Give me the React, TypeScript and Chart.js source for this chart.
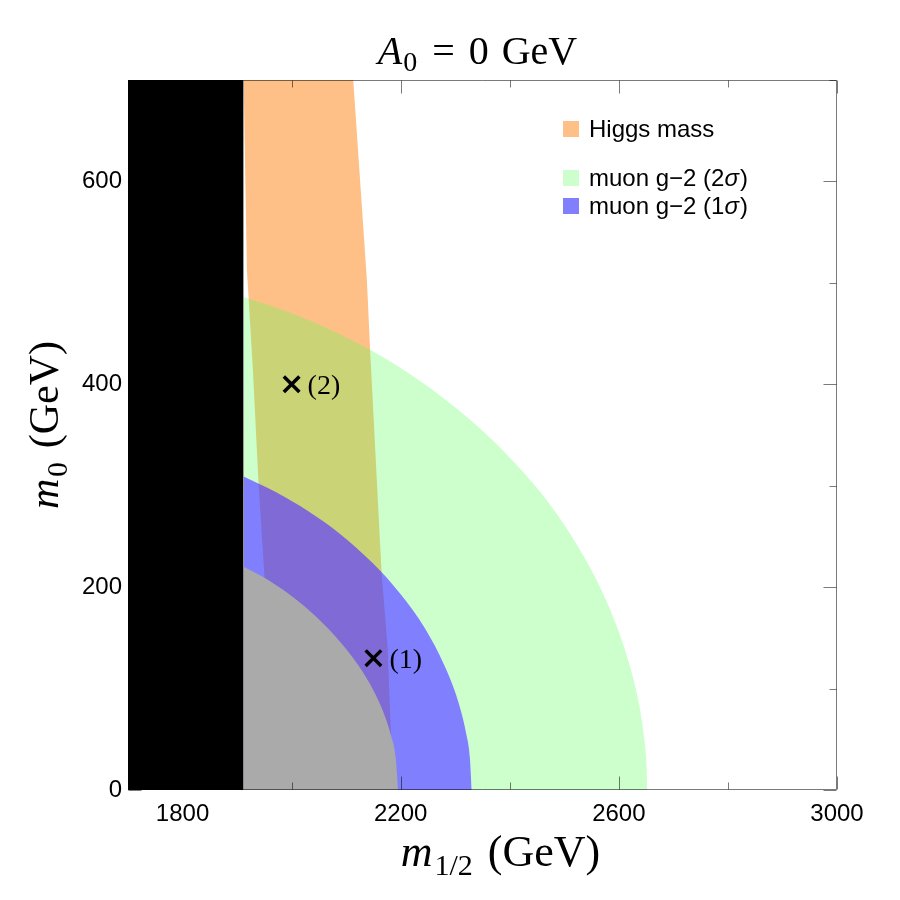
import React, { useEffect, useRef } from "react";
import { Chart, registerables } from "chart.js";

Chart.register(...registerables);

// ---------- axis ranges & ticks ----------
const xRange = [1700, 3000];
const yRange = [0, 700];
const xMajorTicks = [1800, 2200, 2600, 3000];
const xMinorTicks = [2000, 2400, 2800];
const yMajorTicks = [0, 200, 400, 600];
const yMinorTicks = [100, 300, 500, 700];

// ---------- regions (m_1/2 , m_0) ----------
// excluded (black) strip
const excludedX = [1700, 1912];
const excludedY = [700, 700];

// Higgs mass band (closed outline)
const higgsX = [1912, 2113, 2138, 2144, 2165, 2176, 2186, 1970, 1962, 1950, 1939, 1929, 1918];
const higgsY = [700, 700, 503, 433, 214, 141, 0, 0, 100, 212, 306, 414, 513];

// muon g-2 2 sigma outer boundary
const g2TwoSigmaX = [1912, 1980, 2050, 2144, 2200, 2272, 2340, 2394, 2460, 2516, 2560, 2600, 2625, 2635, 2645, 2651, 2652, 2654];
const g2TwoSigmaY = [486, 474, 459, 434, 416, 389, 359, 331, 291, 248, 206, 156, 113, 90, 57, 20, 0, -20];

// muon g-2 1 sigma outer boundary
const g2OneSigmaX = [1912, 1970, 2030, 2090, 2150, 2200, 2245, 2280, 2305, 2320, 2327, 2330, 2332, 2700];
const g2OneSigmaY = [309, 294, 275, 252, 223, 193, 159, 123, 88, 56, 31, 0, -20, -20];

// grey excluded region boundary
const greyX = [1912, 1960, 2010, 2060, 2100, 2140, 2165, 2182, 2191, 2195, 2197];
const greyY = [220, 206, 187, 163, 139, 108, 81, 54, 31, 0, -20];

// benchmark points
const pointX = [2150, 2000];
const pointY = [130, 400];
const pointLabels = ["(1)", "(2)"];

// legend
const legendLabels = ["Higgs mass", "muon g\u22122 (2", "muon g\u22122 (1"];
const legendColors = ["rgb(254,192,134)", "rgb(204,255,204)", "rgb(128,128,255)"];

const SERIF = '"Liberation Serif", "DejaVu Serif", serif';
const SANS = '"Liberation Sans", Arial, sans-serif';

const pts = (xs: number[], ys: number[]) => xs.map((x, i) => ({ x, y: ys[i] }));

type Run = { text: string; font: string; dy?: number; gap?: number };

function runsWidth(ctx: CanvasRenderingContext2D, runs: Run[]) {
  let w = 0;
  for (const r of runs) {
    ctx.font = r.font;
    w += (r.gap || 0) + ctx.measureText(r.text).width;
  }
  return w;
}

function drawRuns(ctx: CanvasRenderingContext2D, runs: Run[], x: number, y: number) {
  let cx = x;
  for (const r of runs) {
    cx += r.gap || 0;
    ctx.font = r.font;
    ctx.fillText(r.text, cx, y + (r.dy || 0));
    cx += ctx.measureText(r.text).width;
  }
}

const overlayPlugin = {
  id: "overlay",
  afterDatasetsDraw(chart: any) {
    const ctx: CanvasRenderingContext2D = chart.ctx;
    const { left, right, top, bottom } = chart.chartArea;
    const xs = chart.scales.x;
    const ys = chart.scales.y;

    // point labels
    ctx.save();
    ctx.fillStyle = "#000";
    ctx.font = `28px ${SERIF}`;
    ctx.textAlign = "left";
    ctx.textBaseline = "alphabetic";
    pointX.forEach((v, i) => {
      const px = xs.getPixelForValue(v);
      const py = ys.getPixelForValue(pointY[i]);
      ctx.fillText(pointLabels[i], px + 16, py + 10);
    });
    ctx.restore();

    // frame + inward ticks
    ctx.save();
    ctx.globalCompositeOperation = "multiply";
    ctx.strokeStyle = "#7a7a7a";
    ctx.lineWidth = 1;
    const L = Math.round(left) + 0.5;
    const R = Math.round(right) - 0.5;
    const T = Math.round(top) + 0.5;
    const B = Math.round(bottom) - 0.5;
    ctx.beginPath();
    ctx.rect(L, T, R - L, B - T);
    ctx.stroke();
    const major = 13;
    const minor = 7;
    ctx.beginPath();
    const xt = (v: number, len: number) => {
      const px = Math.round(xs.getPixelForValue(v)) + 0.5;
      ctx.moveTo(px, B);
      ctx.lineTo(px, B - len);
      ctx.moveTo(px, T);
      ctx.lineTo(px, T + len);
    };
    const yt = (v: number, len: number) => {
      const py = Math.round(ys.getPixelForValue(v)) + 0.5;
      ctx.moveTo(L, py);
      ctx.lineTo(L + len, py);
      ctx.moveTo(R, py);
      ctx.lineTo(R - len, py);
    };
    xMajorTicks.forEach((v) => xt(v, major));
    xMinorTicks.forEach((v) => xt(v, minor));
    yMajorTicks.forEach((v) => yt(v, major));
    yMinorTicks.forEach((v) => yt(v, minor));
    ctx.stroke();
    ctx.restore();
  },
  afterDraw(chart: any) {
    const ctx: CanvasRenderingContext2D = chart.ctx;
    ctx.save();
    ctx.fillStyle = "#000";
    ctx.textAlign = "left";
    ctx.textBaseline = "alphabetic";

    // title
    const titleRuns: Run[] = [
      { text: "A", font: `italic 40px ${SERIF}` },
      { text: "0", font: `28px ${SERIF}`, dy: 7, gap: 1 },
      { text: "=", font: `40px ${SERIF}`, gap: 15 },
      { text: "0", font: `40px ${SERIF}`, gap: 14 },
      { text: "GeV", font: `40px ${SERIF}`, gap: 13 },
    ];
    const tw = runsWidth(ctx, titleRuns);
    drawRuns(ctx, titleRuns, 477.5 - tw / 2, 64);

    // x label
    const xRuns: Run[] = [
      { text: "m", font: `italic 44px ${SERIF}` },
      { text: "1/2", font: `30px ${SERIF}`, dy: 9, gap: 2 },
      { text: "(GeV)", font: `44px ${SERIF}`, gap: 15 },
    ];
    const xw = runsWidth(ctx, xRuns);
    drawRuns(ctx, xRuns, 500.5 - xw / 2, 866);

    // y label
    const yRuns: Run[] = [
      { text: "m", font: `italic 42px ${SERIF}` },
      { text: "0", font: `29px ${SERIF}`, dy: 9, gap: 2 },
      { text: "(GeV)", font: `42px ${SERIF}`, gap: 14 },
    ];
    const yw = runsWidth(ctx, yRuns);
    ctx.save();
    ctx.translate(58, 425);
    ctx.rotate(-Math.PI / 2);
    drawRuns(ctx, yRuns, -yw / 2, 0);
    ctx.restore();

    // legend
    const sqX = 563;
    const sqTops = [121, 170, 198];
    const textX = 589;
    legendLabels.forEach((lab, i) => {
      ctx.fillStyle = legendColors[i];
      ctx.fillRect(sqX, sqTops[i], 16, 16);
      ctx.fillStyle = "#000";
      const base = sqTops[i] + 15.5;
      if (i === 0) {
        ctx.font = `24px ${SANS}`;
        ctx.fillText(lab, textX, base);
      } else {
        drawRuns(ctx, [
          { text: lab, font: `24px ${SANS}` },
          { text: "\u03c3", font: `italic 24px ${SANS}` },
          { text: ")", font: `24px ${SANS}`, gap: 1 },
        ], textX, base);
      }
    });
    ctx.restore();
  },
};

export default function App() {
  const ref = useRef<HTMLCanvasElement | null>(null);

  useEffect(() => {
    if (!ref.current) return;
    const chart = new Chart(ref.current, {
      type: "line",
      data: {
        datasets: [
          {
            type: "scatter",
            label: "points",
            data: pts(pointX, pointY),
            pointStyle: "crossRot",
            pointRadius: 11,
            pointBorderWidth: 3.5,
            pointBorderColor: "#000",
            pointBackgroundColor: "#000",
            showLine: false,
          } as any,
          {
            label: "excluded",
            data: pts(excludedX, excludedY),
            fill: "origin",
            backgroundColor: "#000000",
            borderWidth: 0,
            pointRadius: 0,
          },
          {
            label: "grey",
            data: pts(greyX, greyY),
            fill: "origin",
            backgroundColor: "#aaaaaa",
            borderWidth: 0,
            pointRadius: 0,
            cubicInterpolationMode: "monotone",
          },
          {
            label: "g2 1 sigma",
            data: pts(g2OneSigmaX, g2OneSigmaY),
            fill: "origin",
            backgroundColor: "rgba(60,60,255,0.65)",
            borderWidth: 0,
            pointRadius: 0,
            cubicInterpolationMode: "monotone",
          },
          {
            label: "g2 2 sigma",
            data: pts(g2TwoSigmaX, g2TwoSigmaY),
            fill: "-1",
            backgroundColor: "rgba(85,255,85,0.3)",
            borderWidth: 0,
            pointRadius: 0,
            cubicInterpolationMode: "monotone",
          },
          {
            label: "Higgs",
            data: pts(higgsX, higgsY),
            fill: "shape",
            backgroundColor: "rgb(254,192,134)",
            borderWidth: 0,
            pointRadius: 0,
            tension: 0,
          },
        ],
      },
      options: {
        animation: false,
        responsive: false,
        devicePixelRatio: 1,
        layout: { padding: { left: 0, right: 63, top: 80, bottom: 0 } },
        elements: { point: { radius: 0 }, line: { borderWidth: 0, capBezierPoints: false } },
        plugins: {
          legend: { display: false },
          title: { display: false },
          tooltip: { enabled: false },
        },
        scales: {
          x: {
            type: "linear",
            min: xRange[0],
            max: xRange[1],
            grid: { display: false, drawTicks: false },
            border: { display: false },
            afterBuildTicks: (s: any) => {
              s.ticks = xMajorTicks.map((v) => ({ value: v }));
            },
            afterFit: (s: any) => {
              s.height = 110;
            },
            ticks: {
              padding: 10,
              color: "#000",
              maxRotation: 0,
              autoSkip: false,
              font: { family: SANS, size: 24 },
              callback: (v: any) => String(v),
            },
          },
          y: {
            type: "linear",
            min: yRange[0],
            max: yRange[1],
            grid: { display: false, drawTicks: false },
            border: { display: false },
            afterBuildTicks: (s: any) => {
              s.ticks = yMajorTicks.map((v) => ({ value: v }));
            },
            afterFit: (s: any) => {
              s.width = 128;
            },
            ticks: {
              padding: 6,
              color: "#000",
              autoSkip: false,
              font: { family: SANS, size: 24 },
              callback: (v: any) => String(v),
            },
          },
        },
      } as any,
      plugins: [overlayPlugin as any],
    });
    return () => chart.destroy();
  }, []);

  return (
    <div style={{ position: "fixed", left: 0, top: 0, width: 900, height: 900, background: "#fff" }}>
      <canvas ref={ref} width={900} height={900} style={{ display: "block", width: 900, height: 900 }} />
    </div>
  );
}
